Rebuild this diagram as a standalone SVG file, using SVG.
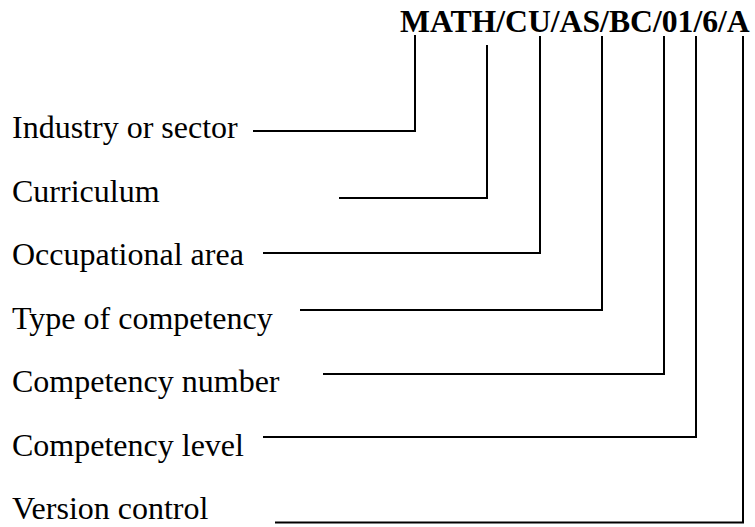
<svg xmlns="http://www.w3.org/2000/svg" width="755" height="527" viewBox="0 0 755 527">
<style>
.lbl{font-family:"Liberation Serif","Times New Roman",serif;font-size:32px;fill:#000}
.code{font-family:"Liberation Serif","Times New Roman",serif;font-size:31.7px;font-weight:bold;fill:#000}
.conn polyline{fill:none;stroke:#000;stroke-width:2;stroke-linejoin:miter}
</style>
<rect width="755" height="527" fill="#fff"/>
<g id="code"><text class="code" x="400" y="32">MATH/CU/AS/BC/01/6/A</text></g>
<g id="industry"><text class="lbl" x="12" y="138">Industry or sector</text></g>
<g id="curriculum"><text class="lbl" x="12" y="201.5">Curriculum</text></g>
<g id="occupational"><text class="lbl" x="12" y="265">Occupational area</text></g>
<g id="type"><text class="lbl" x="12" y="328.5">Type of competency</text></g>
<g id="number"><text class="lbl" x="12" y="392">Competency number</text></g>
<g id="level"><text class="lbl" x="12" y="455.5">Competency level</text></g>
<g id="version"><text class="lbl" x="12" y="519">Version control</text></g>
<g id="connectors" class="conn">
<polyline points="253,131 415,131 415,35"/>
<polyline points="339,198 487,198 487,45"/>
<polyline points="263,253 540,253 540,36"/>
<polyline points="300,310 602,310 602,36"/>
<polyline points="323,374 664,374 664,36"/>
<polyline points="263,437 696,437 696,36"/>
<polyline points="275,522.5 743,522.5 743,36"/>
</g>
</svg>
